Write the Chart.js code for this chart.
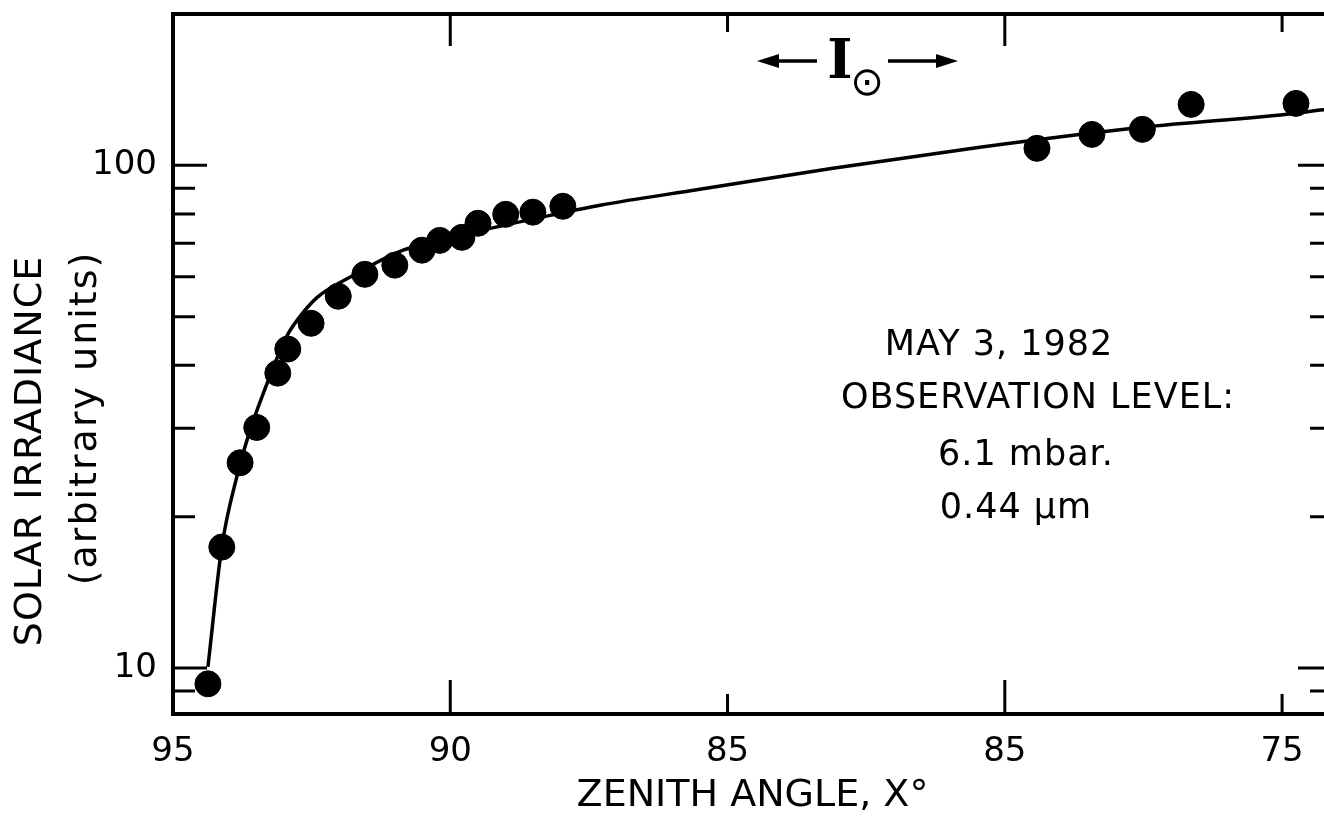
<!DOCTYPE html>
<html>
<head>
<meta charset="utf-8">
<title>Solar irradiance vs zenith angle</title>
<script src="https://cdn.jsdelivr.net/npm/chart.js@4/dist/chart.umd.min.js"></script>
<style>
  html, body { margin: 0; padding: 0; background: #fff; overflow: hidden; }
  #wrap { width: 1346px; height: 819px; }
</style>
</head>
<body>
<div id="wrap"><canvas id="chart" width="1346" height="819"></canvas></div>
<script>
// Zenith angle axis (reversed) and its printed labels
const xTickValues = [95, 90, 85, 80, 75];
const xTickLabels = ['95', '90', '85', '85', '75'];
// log axis: labelled decades and unlabelled minor ticks
const yTickLabels = [10, 100];
const yMinorTicks = [9, 20, 30, 40, 50, 60, 70, 80, 90];

// measured points (filled dots)
const obsAngle = [94.37, 94.12, 93.79, 93.49, 93.11, 92.93, 92.51, 92.02, 91.54, 91.00, 90.51,
                  90.19, 89.79, 89.50, 89.00, 88.51, 87.97, 79.42, 78.43, 77.52, 76.64, 74.75];
const obsIrradiance = [9.3, 17.4, 25.6, 30.1, 38.6, 43.1, 48.5, 54.9, 60.7, 63.3, 67.8,
                       70.9, 71.9, 76.7, 79.9, 80.7, 82.9, 108.1, 115.2, 117.9, 132.2, 132.8];

// fitted curve
const fitAngle = [94.37, 94.12, 93.85, 93.61, 93.30, 93.12, 92.94, 92.76, 92.40, 91.81, 90.85,
                  89.41, 88.20, 87.30, 85.50, 83.13, 80.45, 77.52, 74.75, 74.10];
const fitIrradiance = [10.05, 17.4, 24.0, 29.7, 36.9, 41.5, 45.9, 49.2, 54.6, 59.9, 67.8,
                       74.3, 79.5, 83.3, 89.6, 98.6, 108.6, 119.0, 126.9, 129.8];

const infoLines = ['MAY 3, 1982', 'OBSERVATION LEVEL:', '6.1 mbar.', '0.44 \u00b5m'];

const FONT = 'DejaVu Sans';

// inward ticks on all four sides plus the top frame line
const frameTicks = {
  id: 'frameTicks',
  beforeDatasetsDraw(chart) {
    const { ctx, chartArea: a, scales: { x, y } } = chart;
    ctx.save();
    ctx.strokeStyle = '#000';
    ctx.lineCap = 'butt';
    ctx.lineWidth = 4;
    ctx.beginPath();
    ctx.moveTo(a.left - 2, a.top);
    ctx.lineTo(a.right + 2, a.top);
    ctx.stroke();

    ctx.lineWidth = 3;
    xTickValues.forEach((v, i) => {
      if (i === 0) return;
      const px = x.getPixelForValue(v);
      const major = i % 2 === 1;
      ctx.beginPath();
      ctx.moveTo(px, a.bottom);
      ctx.lineTo(px, a.bottom - (major ? 34 : 20));
      ctx.moveTo(px, a.top);
      ctx.lineTo(px, a.top + (major ? 32 : 18));
      ctx.stroke();
    });

    const yTicks = yTickLabels.map(v => [v, 34]).concat(yMinorTicks.map(v => [v, 22]));
    yTicks.forEach(([v, len]) => {
      const py = y.getPixelForValue(v);
      ctx.beginPath();
      ctx.moveTo(a.left, py);
      ctx.lineTo(a.left + len, py);
      ctx.moveTo(a.right, py);
      ctx.lineTo(a.right - len, py);
      ctx.stroke();
    });
    ctx.restore();
  }
};

// y-axis title, the I-sun marker and the observation note
const notes = {
  id: 'notes',
  afterDraw(chart) {
    const { ctx, chartArea: a } = chart;
    ctx.save();
    ctx.fillStyle = '#000';
    ctx.strokeStyle = '#000';

    // rotated y title (two lines)
    ctx.textAlign = 'center';
    ctx.textBaseline = 'middle';
    ctx.font = '38px "' + FONT + '"';
    ctx.save();
    ctx.translate(31, 451);
    ctx.rotate(-Math.PI / 2);
    ctx.letterSpacing = '1px';
    ctx.fillText('SOLAR IRRADIANCE', 0, 0);
    ctx.restore();
    ctx.save();
    ctx.translate(86, 418);
    ctx.rotate(-Math.PI / 2);
    ctx.letterSpacing = '2px';
    ctx.fillText('(arbitrary units)', 0, 0);
    ctx.restore();

    // <- I(sun) ->
    const ay = a.top + 47;
    ctx.lineWidth = 3.5;
    ctx.beginPath();
    ctx.moveTo(776, ay); ctx.lineTo(817, ay);
    ctx.moveTo(888, ay); ctx.lineTo(940, ay);
    ctx.stroke();
    ctx.beginPath();
    ctx.moveTo(757, ay); ctx.lineTo(779, ay - 7); ctx.lineTo(779, ay + 7); ctx.closePath();
    ctx.moveTo(958, ay); ctx.lineTo(936, ay - 7); ctx.lineTo(936, ay + 7); ctx.closePath();
    ctx.fill();
    ctx.textBaseline = 'alphabetic';
    ctx.font = 'bold 54px "DejaVu Serif"';
    ctx.fillText('I', 840, 78);
    ctx.font = '40px "' + FONT + '"';
    ctx.fillText('\u2299', 867, 95);

    // observation note
    ctx.font = '35px "' + FONT + '"';
    ctx.letterSpacing = '1px';
    ctx.fillText(infoLines[0], 999, 355);
    ctx.fillText(infoLines[1], 1038, 408);
    ctx.fillText(infoLines[2], 1026, 465);
    ctx.fillText(infoLines[3], 1016, 518);
    ctx.restore();
  }
};

new Chart(document.getElementById('chart'), {
  type: 'scatter',
  data: {
    datasets: [
      {
        type: 'line',
        data: fitAngle.map((a, i) => ({ x: a, y: fitIrradiance[i] })),
        borderColor: '#000',
        borderWidth: 3.5,
        pointRadius: 0,
        cubicInterpolationMode: 'monotone',
        fill: false
      },
      {
        data: obsAngle.map((a, i) => ({ x: a, y: obsIrradiance[i] })),
        backgroundColor: '#000',
        borderColor: '#000',
        pointRadius: 13,
        showLine: false
      }
    ]
  },
  options: {
    responsive: false,
    animation: false,
    layout: { padding: { left: 0, right: 8, top: 14, bottom: 0 } },
    plugins: { legend: { display: false }, tooltip: { enabled: false } },
    scales: {
      x: {
        type: 'linear',
        reverse: true,
        min: 74.1,
        max: 95,
        afterBuildTicks: s => { s.ticks = xTickValues.map(v => ({ value: v })); },
        afterFit: s => { s.height = 105; s.paddingLeft = 0; s.paddingRight = 0; },
        grid: { display: false, drawTicks: false },
        border: { display: true, color: '#000', width: 4 },
        ticks: {
          autoSkip: false,
          maxRotation: 0,
          padding: 18,
          color: '#000',
          font: { family: FONT, size: 34 },
          callback: v => xTickLabels[xTickValues.indexOf(v)]
        },
        title: {
          display: true,
          text: 'ZENITH ANGLE, X\u00b0',
          color: '#000',
          font: { family: FONT, size: 38 },
          padding: { top: 0, bottom: 0 }
        }
      },
      y: {
        type: 'logarithmic',
        min: 8.1,
        max: 200,
        afterBuildTicks: s => { s.ticks = yTickLabels.map(v => ({ value: v })); },
        afterFit: s => { s.width = 173; s.paddingTop = 0; s.paddingBottom = 0; },
        grid: { display: false, drawTicks: false },
        border: { display: true, color: '#000', width: 4 },
        ticks: {
          padding: 16,
          color: '#000',
          font: { family: FONT, size: 34 },
          callback: v => String(v)
        }
      }
    }
  },
  plugins: [frameTicks, notes]
});
</script>
</body>
</html>
